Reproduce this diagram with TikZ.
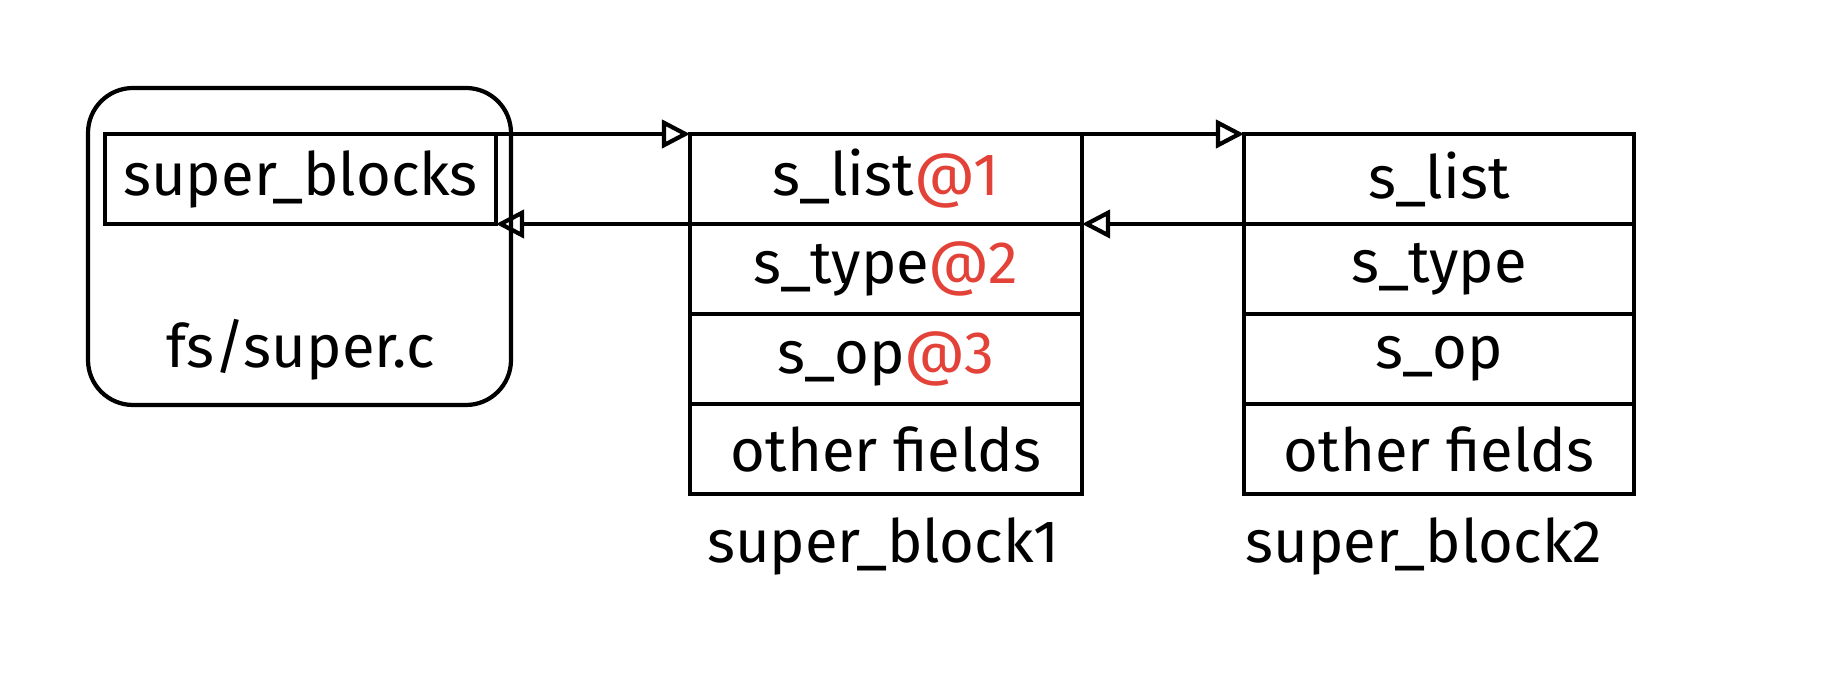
\documentclass[tikz,border=0pt]{standalone}
\usepackage{fontspec}
\setmainfont{Fira Sans}
\usetikzlibrary{positioning,arrows.meta}
\definecolor{atred}{RGB}{226,66,56}
\tikzset{
	field/.style={draw, line width=1.2pt, outer sep=0pt, minimum width=3.92cm, minimum height=0.9cm, inner sep=0pt, font=\fontsize{17}{20}\selectfont},
	caption/.style={font=\fontsize{17}{20}\selectfont},
	link/.style={line width=1.2pt, -{Triangle[open, length=8pt, width=8pt]}},
	at/.style={text=atred}
}
\begin{document}
\begin{tikzpicture}
	\useasboundingbox (0,0) rectangle (18.3,6.82);
	
	%The global list in fs/super.c
	\node[draw, line width=1.2pt, rounded corners=0.45cm, minimum width=4.23cm, minimum height=3.17cm] (fs) at (2.995,4.355) {};
	\node[field, minimum width=3.91cm] (sb) at (3.005,5.03) {super\_blocks};
	\node[caption] (fslabel) at (3.01,3.32) {fs/super.c};
	
	%First super_block
	\def\x{8.86}
	\node[field] (l1) at (\x,5.03) {s\_list\textcolor{atred}{@1}};
	\node[field, below=0pt of l1] (t1) {s\_type\textcolor{atred}{@2}};
	\node[field, below=0pt of t1] (p1) {s\_op\textcolor{atred}{@3}};
	\node[field, below=0pt of p1] (f1) {other fields};
	\node[caption] (n1) at (8.83,1.36) {super\_block1};
	
	%Second super_block
	\def\x{14.39}
	\node[field, minimum width=3.9cm] (l2) at (\x,5.03) {s\_list};
	\node[field, minimum width=3.9cm, below=0pt of l2] (t2) {s\_type};
	\node[field, minimum width=3.9cm, below=0pt of t2] (p2) {s\_op};
	\node[field, minimum width=3.9cm, below=0pt of p2] (f2) {other fields};
	\node[caption] (n2) at (14.24,1.36) {super\_block2};
	
	%next and prev pointers
	\draw[link] (sb.north east) -- (l1.north west);
	\draw[link] (l1.south west) -- (sb.south east);
	\draw[link] (l1.north east) -- (l2.north west);
	\draw[link] (l2.south west) -- (l1.south east);
\end{tikzpicture}
\end{document}
